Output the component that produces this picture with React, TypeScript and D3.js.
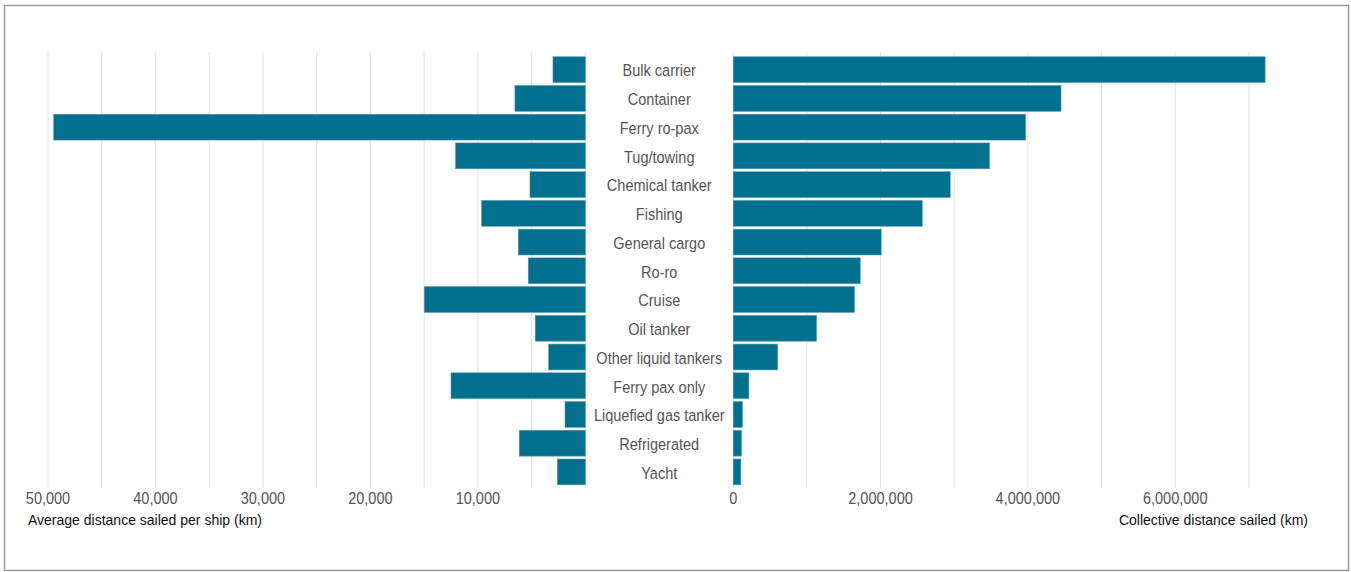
import React from "react";
import * as d3 from "d3";

const categories = [
  "Bulk carrier",
  "Container",
  "Ferry ro-pax",
  "Tug/towing",
  "Chemical tanker",
  "Fishing",
  "General cargo",
  "Ro-ro",
  "Cruise",
  "Oil tanker",
  "Other liquid tankers",
  "Ferry pax only",
  "Liquefied gas tanker",
  "Refrigerated",
  "Yacht",
];

// Average distance sailed per ship (km)
const averageDistance = [
  3010, 6550, 49470, 12080, 5150, 9650, 6240, 5310, 14990, 4660, 3410, 12500, 1890, 6150, 2610,
];

// Collective distance sailed (km)
const collectiveDistance = [
  7220000, 4450000, 3970000, 3480000, 2946000, 2566000, 2009000, 1724000, 1648000, 1132000,
  604000, 213000, 126000, 113000, 104000,
];

const leftTicks = [50000, 40000, 30000, 20000, 10000];
const leftGrid = [50000, 45000, 40000, 35000, 30000, 25000, 20000, 15000, 10000, 5000, 0];
const rightTicks = [0, 2000000, 4000000, 6000000];
const rightGrid = [0, 1000000, 2000000, 3000000, 4000000, 5000000, 6000000, 7000000];

const W = 1351;
const H = 572;
const BAR = "#016f8e";
const FONT = "'Liberation Sans', Arial, sans-serif";
const SX = 0.88;

function NarrowText({ x, y, size, children }: { x: number; y: number; size: number; children: React.ReactNode }) {
  return (
    <text
      transform={`translate(${x},${y}) scale(${SX},1)`}
      dy="0.35em"
      textAnchor="middle"
      fontFamily={FONT}
      fontSize={size}
      fill="#555"
    >
      {children}
    </text>
  );
}

export default function App() {
  const y = d3
    .scaleBand<string>()
    .domain(categories)
    .range([55.3, 486.3])
    .paddingInner(0.1)
    .paddingOuter(0.05);

  const xLeft = d3.scaleLinear().domain([0, 50000]).range([585.3, 48]);
  const xRight = d3.scaleLinear().domain([0, 7000000]).range([733.2, 1248.9]);
  const fmt = d3.format(",");
  const labelX = (585.3 + 733.2) / 2;

  return (
    <svg
      width={W}
      height={H}
      style={{ position: "absolute", left: 0, top: 0, background: "#fff" }}
    >
      <rect x={4.5} y={5.5} width={1344} height={565} fill="#fff" stroke="#9a9a9a" strokeWidth={1.5} />

      {leftGrid.map((v) => (
        <line key={"lg" + v} x1={xLeft(v)} x2={xLeft(v)} y1={52} y2={488} stroke="#e2e2e2" strokeWidth={1} />
      ))}
      {rightGrid.map((v) => (
        <line key={"rg" + v} x1={xRight(v)} x2={xRight(v)} y1={52} y2={488} stroke="#e2e2e2" strokeWidth={1} />
      ))}

      {categories.map((c, i) => (
        <rect
          key={"l" + c}
          x={xLeft(averageDistance[i])}
          y={y(c)}
          width={xLeft(0) - xLeft(averageDistance[i])}
          height={y.bandwidth()}
          fill={BAR}
          stroke="#5d9fb3"
          strokeWidth={0.6}
        />
      ))}
      {categories.map((c, i) => (
        <rect
          key={"r" + c}
          x={xRight(0)}
          y={y(c)}
          width={xRight(collectiveDistance[i]) - xRight(0)}
          height={y.bandwidth()}
          fill={BAR}
          stroke="#5d9fb3"
          strokeWidth={0.6}
        />
      ))}

      {categories.map((c) => (
        <NarrowText key={"t" + c} x={labelX} y={(y(c) as number) + y.bandwidth() / 2 + 1} size={16.5}>
          {c}
        </NarrowText>
      ))}

      {leftTicks.map((v) => (
        <NarrowText key={"lt" + v} x={xLeft(v)} y={498} size={16.5}>
          {fmt(v)}
        </NarrowText>
      ))}
      {rightTicks.map((v) => (
        <NarrowText key={"rt" + v} x={xRight(v)} y={498} size={16.5}>
          {fmt(v)}
        </NarrowText>
      ))}

      <text x={28} y={520} dy="0.35em" fontFamily={FONT} fontSize={14} fill="#111">
        Average distance sailed per ship (km)
      </text>
      <text x={1308} y={520} dy="0.35em" textAnchor="end" fontFamily={FONT} fontSize={14} fill="#111">
        Collective distance sailed (km)
      </text>
    </svg>
  );
}
